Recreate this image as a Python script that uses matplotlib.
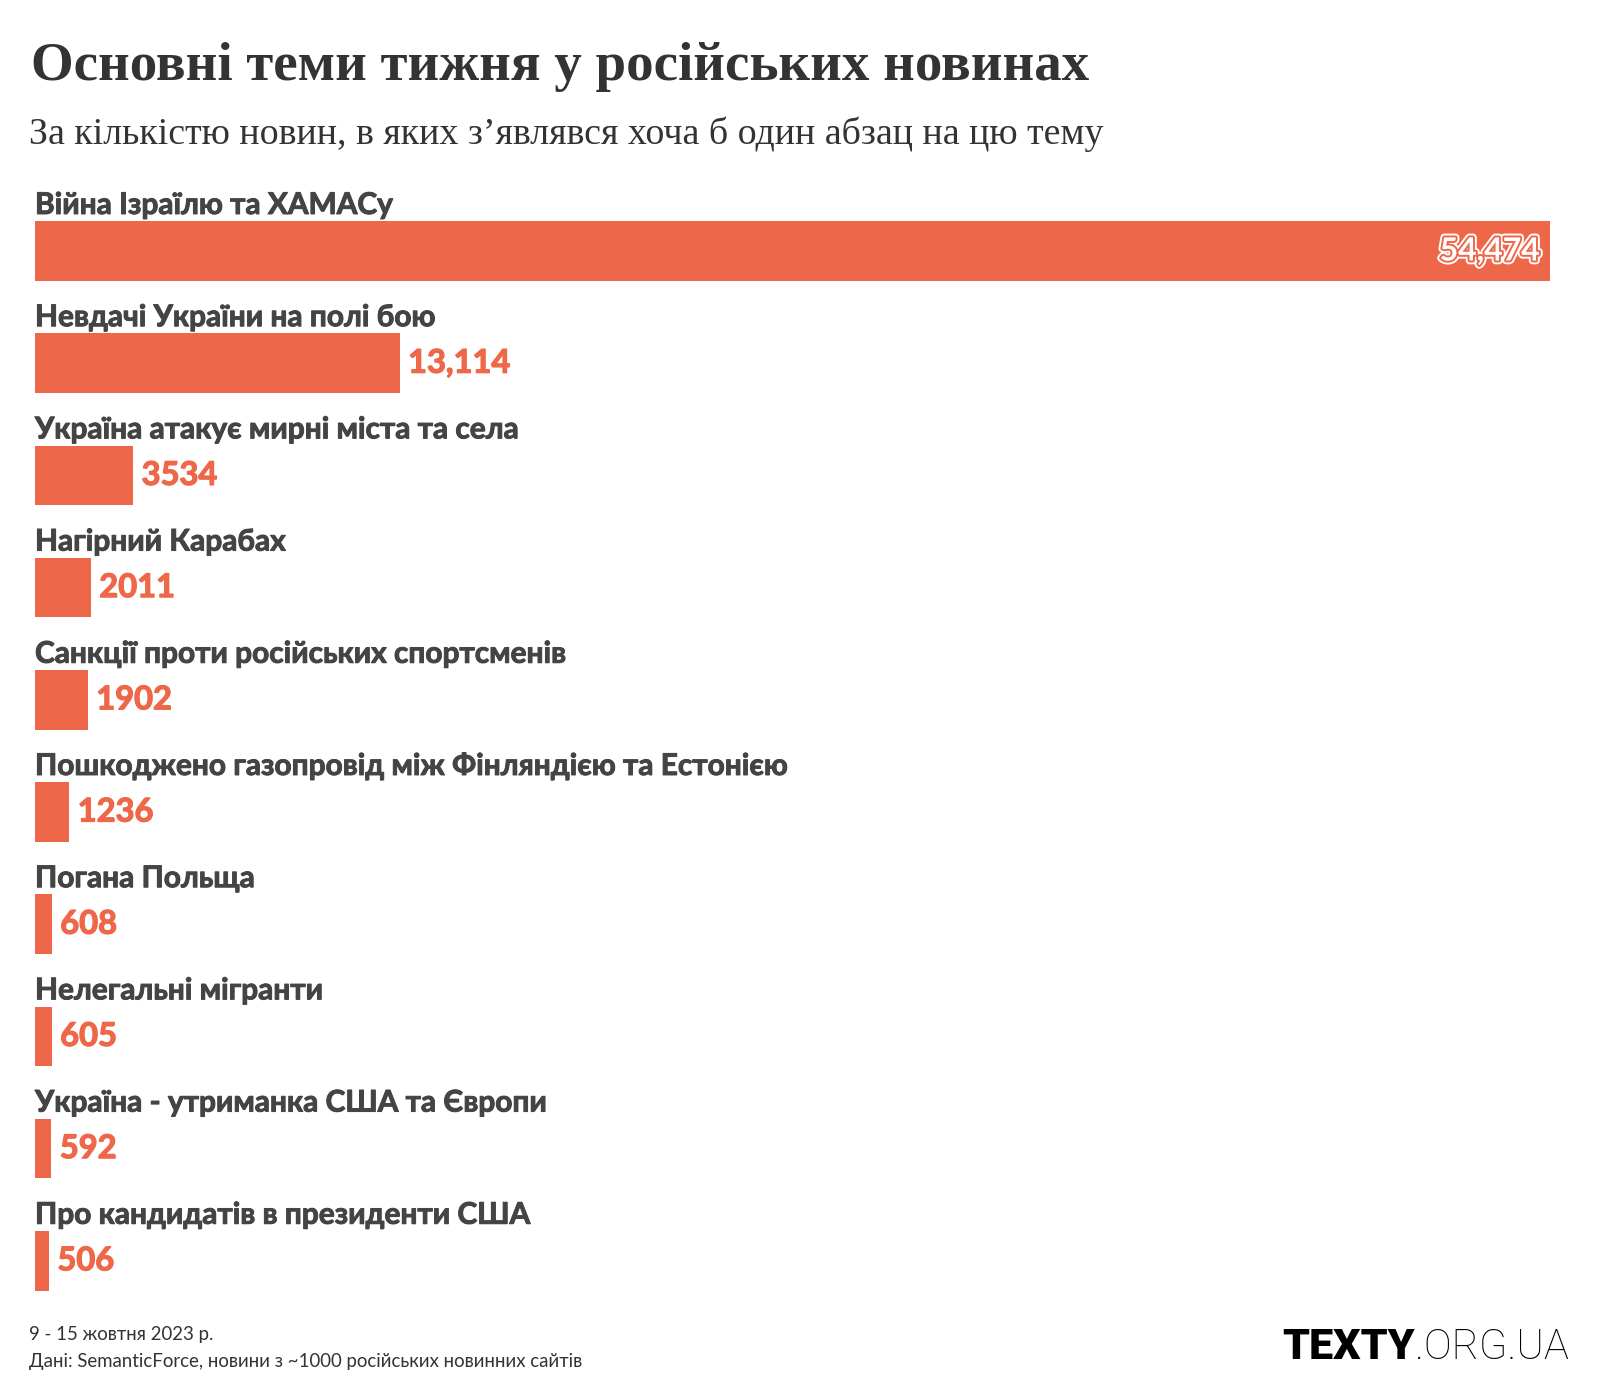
import matplotlib.pyplot as plt
import matplotlib.patheffects as pe

topics = [
    "Війна Ізраїлю та ХАМАСу",
    "Невдачі України на полі бою",
    "Україна атакує мирні міста та села",
    "Нагірний Карабах",
    "Санкції проти російських спортсменів",
    "Пошкоджено газопровід між Фінляндією та Естонією",
    "Погана Польща",
    "Нелегальні мігранти",
    "Україна - утриманка США та Європи",
    "Про кандидатів в президенти США",
]
counts = [54474, 13114, 3534, 2011, 1902, 1236, 608, 605, 592, 506]
value_labels = ["54,474", "13,114", "3534", "2011", "1902", "1236", "608", "605", "592", "506"]

bar_color = "#EE6748"
label_color = "#444444"
sans = ["Lato", "Noto Sans", "DejaVu Sans"]

fig = plt.figure(figsize=(16, 14), dpi=100)
W, H = 1600, 1400

# axes: row 0 center at 251px, spacing 112.2px
top_px = 251 - 112.2
bot_px = 251 + 9.5 * 112.2
ax = fig.add_axes([35 / W, 1 - bot_px / H, (1550 - 35) / W, (bot_px - top_px) / H])
ax.set_xlim(0, max(counts))
ax.set_ylim(9.5, -1)
ax.axis("off")

rows = range(len(topics))
ax.barh(list(rows), counts, height=0.53, color=bar_color)

for i, (t, v, lab) in enumerate(zip(topics, counts, value_labels)):
    ax.text(0, i - 0.33, t, fontsize=21.5, fontweight="bold", color=label_color,
            family=sans, va="baseline", ha="left",
            path_effects=[pe.Stroke(linewidth=0.7, foreground=label_color), pe.Normal()])
    if i == 0:
        ax.annotate(lab, (v, i), xytext=(-7, 0), textcoords="offset points",
                    ha="right", va="center", fontsize=23, fontweight="bold",
                    color="white", family=sans,
                    path_effects=[pe.Stroke(linewidth=5.5, foreground="white"),
                                  pe.Stroke(linewidth=2.8, foreground=bar_color),
                                  pe.Normal()])
    else:
        ax.annotate(lab, (v, i), xytext=(6, 0), textcoords="offset points",
                    ha="left", va="center", fontsize=23.5, fontweight="bold",
                    color=bar_color, family=sans,
                    path_effects=[pe.Stroke(linewidth=0.9, foreground=bar_color), pe.Normal()])

fig.text(31 / W, 1 - 80 / H, "Основні теми тижня у російських новинах",
         fontsize=39.5, fontweight="bold", color="#333333",
         family=["Liberation Serif", "DejaVu Serif"], va="baseline")
fig.text(29 / W, 1 - 144 / H, "За кількістю новин, в яких з\u02bcявлявся хоча б один абзац на цю тему",
         fontsize=27.3, color="#333333",
         family=["Liberation Serif", "DejaVu Serif"], va="baseline")

fig.text(29 / W, 1 - 1340 / H, "9 - 15 жовтня 2023 р.", fontsize=13.4,
         color="#333333", family=sans, va="baseline")
fig.text(29 / W, 1 - 1367 / H, "Дані: SemanticForce, новини з ~1000 російських новинних сайтів",
         fontsize=13.4, color="#333333", family=sans, va="baseline")

t1 = fig.text(1282 / W, 1 - 1359 / H, "TEXTY", fontsize=31, fontweight="black",
              color="black", family=["Roboto", "DejaVu Sans"], va="baseline")
fig.canvas.draw()
bb = t1.get_window_extent()
fig.text(bb.x1 / W, 1 - 1359 / H, ".ORG.UA", fontsize=30, fontweight="light",
         color="black", family=["Roboto", "DejaVu Sans"], va="baseline")

fig.savefig("out.png", dpi=100, facecolor="white")
